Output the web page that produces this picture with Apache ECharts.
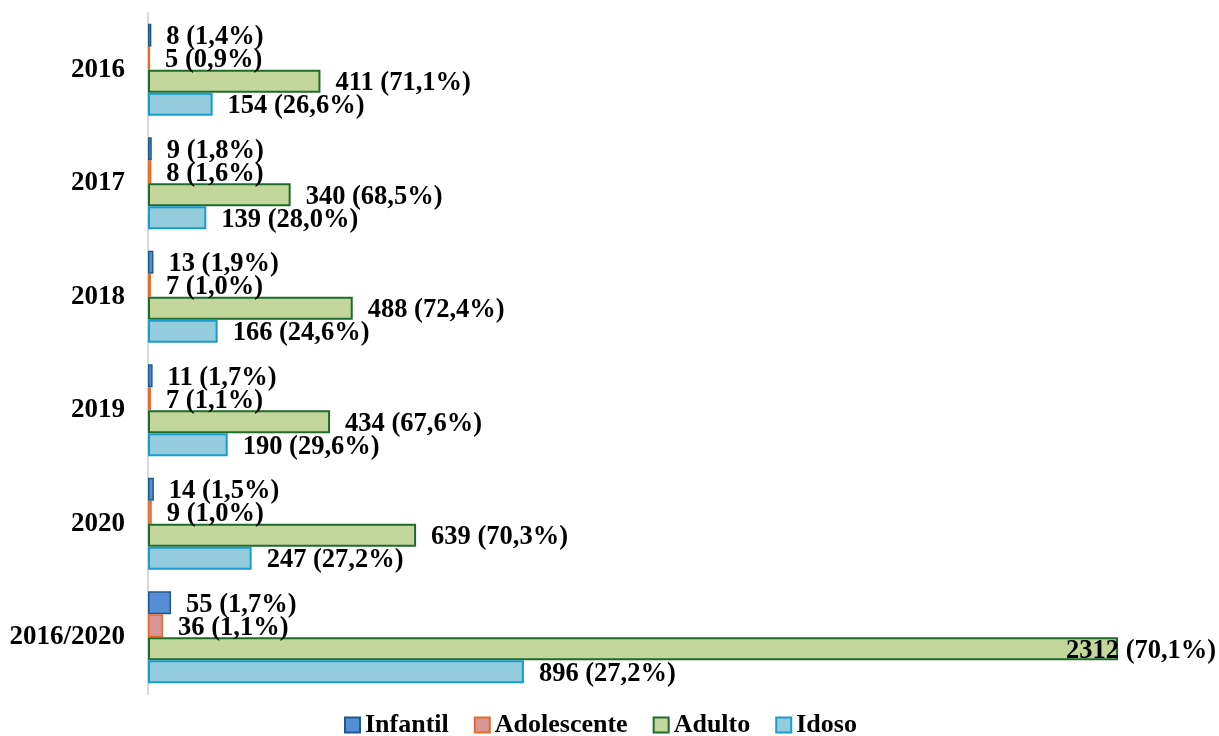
<!DOCTYPE html>
<html>
<head>
<meta charset="utf-8">
<script src="https://cdn.jsdelivr.net/npm/echarts@6/dist/echarts.min.js"></script>
<style>
  html, body { margin: 0; padding: 0; background: #fff; }
  #chart { width: 1219px; height: 736px; }
</style>
</head>
<body>
<div id="chart"></div>
<script>
// Age-group counts per year, with share of the year's total
const categories = ['2016', '2017', '2018', '2019', '2020', '2016/2020'];
const infantil = [8, 9, 13, 11, 14, 55];
const infantilPct = ['1,4', '1,8', '1,9', '1,7', '1,5', '1,7'];
const adolescente = [5, 8, 7, 7, 9, 36];
const adolescentePct = ['0,9', '1,6', '1,0', '1,1', '1,0', '1,1'];
const adulto = [411, 340, 488, 434, 639, 2312];
const adultoPct = ['71,1', '68,5', '72,4', '67,6', '70,3', '70,1'];
const idoso = [154, 139, 166, 190, 247, 896];
const idosoPct = ['26,6', '28,0', '24,6', '29,6', '27,2', '27,2'];

const FONT = '"Liberation Serif", "Times New Roman", serif';
const adultoMax = Math.max.apply(null, adulto);

function makeSeries(name, values, pcts, fill, border, borderWidth) {
  return {
    name: name,
    type: 'bar',
    barWidth: 23,
    barGap: '0%',
    data: values.map(function (v) {
      const item = { value: v };
      // the longest bar carries its label partly over its own end
      if (values === adulto && v === adultoMax) {
        item.label = { offset: [-67, 2] };
      }
      return item;
    }),
    itemStyle: { color: fill, borderColor: border, borderWidth: borderWidth },
    label: {
      show: true,
      position: 'right',
      distance: 15,
      offset: [0, 2],
      color: '#000',
      fontFamily: FONT,
      fontWeight: 'bold',
      fontSize: 26.5,
      formatter: function (p) { return p.value + ' (' + pcts[p.dataIndex] + '%)'; }
    }
  };
}

const chart = echarts.init(document.getElementById('chart'), null, { renderer: 'canvas' });
chart.setOption({
  animation: false,
  backgroundColor: '#fff',
  grid: { left: 148, right: 101, top: 13, bottom: 42, containLabel: false },
  xAxis: {
    type: 'value', min: 0, max: 2312, show: false,
    splitLine: { show: false }
  },
  yAxis: {
    type: 'category',
    inverse: true,
    data: categories,
    axisLine: { show: true, lineStyle: { color: '#d9d9d9', width: 2 } },
    axisTick: { show: false },
    axisLabel: {
      margin: 23,
      color: '#000',
      fontFamily: FONT,
      fontWeight: 'bold',
      fontSize: 27,
      padding: [4, 0, 0, 0]
    }
  },
  legend: {
    top: 712,
    left: 344,
    padding: 0,
    icon: 'rect',
    itemWidth: 15,
    itemHeight: 15,
    itemGap: 25,
    textStyle: { color: '#000', fontFamily: FONT, fontWeight: 'bold', fontSize: 26 },
    data: ['Infantil', 'Adolescente', 'Adulto', 'Idoso']
  },
  series: [
    makeSeries('Infantil', infantil, infantilPct, '#558ed5', '#1f5a8c', 1.5),
    makeSeries('Adolescente', adolescente, adolescentePct, '#d99694', '#e46c2a', 1.5),
    makeSeries('Adulto', adulto, adultoPct, '#c3d69b', '#1e6b2a', 2),
    makeSeries('Idoso', idoso, idosoPct, '#93cddd', '#1a9bd0', 2)
  ]
});
</script>
</body>
</html>
